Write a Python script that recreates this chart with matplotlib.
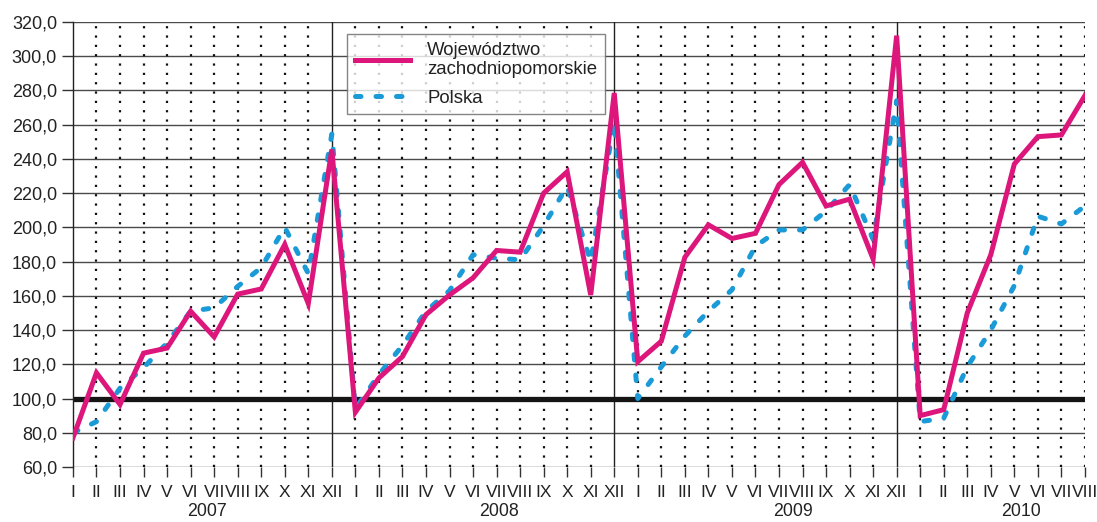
import numpy as np
import matplotlib.pyplot as plt
from matplotlib.transforms import blended_transform_factory

plt.rcParams['font.family'] = ['Liberation Sans', 'DejaVu Sans']

rzymskie = ['I', 'II', 'III', 'IV', 'V', 'VI', 'VII', 'VIII', 'IX', 'X', 'XI', 'XII']
miesiace = rzymskie * 3 + rzymskie[:8]
lata = ['2007', '2008', '2009', '2010']

wojewodztwo = [77, 115, 96.5, 126.5, 129.5, 151, 136, 161, 164, 190, 155.5, 245.5,
               92, 112, 124.5, 149, 160.5, 170.5, 186.5, 185.5, 220, 232.5, 160.5, 278.5,
               121.5, 133.5, 182.5, 201.5, 193.5, 196.5, 225, 238, 212.5, 216.5, 181.5, 312,
               90, 93.5, 150, 184, 237, 253, 254, 277]

polska = [80, 86.5, 106, 118, 132.5, 151, 153, 165.5, 176.5, 200, 173, 254.5,
          94, 114, 131, 151, 163, 184, 182, 181, 201, 224, 180, 262,
          100, 118.5, 136.5, 151, 163.5, 189, 198.5, 198.5, 209.5, 225, 193, 274,
          86.5, 88.5, 118.5, 140, 166, 206.5, 202, 212.5]

# pozycje podpisow lat (w jednostkach indeksu miesiaca)
pozycje_lat = [5.7, 18.1, 30.6, 40.3]

fig = plt.figure(figsize=(10.97, 5.22), dpi=100)
ax = fig.add_axes([0.0665, 0.1054, 0.9225, 0.8525])
x = np.arange(len(miesiace))

# siatka
for v in range(60, 321, 20):
    ax.axhline(v, color='#4a4a4a', lw=1.0, zorder=1)
for i in x[1:]:
    if miesiace[i] == 'XII':
        ax.axvline(i, color='#222222', lw=1.0, zorder=1)
    else:
        ax.axvline(i, color='#111111', lw=1.6, linestyle=(0, (1, 3.2)), zorder=1)

ax.axhline(100, color='#151515', lw=3.8, zorder=2)

ax.plot(x, wojewodztwo, color='#dc167b', lw=3.6, zorder=4,
        solid_joinstyle='miter', label='Województwo\nzachodniopomorskie')
ax.plot(x, polska, color='#1b9ad8', lw=3.6, linestyle=(0, (1.1, 3.0)),
        dash_capstyle='round', zorder=3, label='Polska')

ax.set_xlim(0, len(miesiace) - 1)
ax.set_ylim(60, 320)

ax.set_xticks(x)
ax.set_xticklabels(miesiace, fontsize=12.5, color='#222222')
ax.set_yticks(range(60, 321, 20))
ax.set_yticklabels([f'{v:.1f}'.replace('.', ',') for v in range(60, 321, 20)],
                   fontsize=13, color='#222222')
ax.tick_params(axis='x', length=7, width=1, color='#333333', pad=6)
ax.tick_params(axis='y', length=8, width=1, color='#333333', pad=3.5)

for s in ['top', 'right', 'bottom']:
    ax.spines[s].set_visible(False)
ax.spines['left'].set_color('#222222')
ax.spines['left'].set_linewidth(1.0)

tr = blended_transform_factory(ax.transData, ax.transAxes)
for rok, px in zip(lata, pozycje_lat):
    ax.text(px, -0.1, rok, transform=tr, ha='center', va='center',
            fontsize=12.8, color='#222222')

leg = ax.legend(loc='upper left', bbox_to_anchor=(0.271, 0.972), fontsize=13.4,
                frameon=True, fancybox=False, handlelength=3.0, handletextpad=0.9,
                borderpad=0.4, labelspacing=0.6, borderaxespad=0)
leg.get_frame().set_edgecolor('#666666')
leg.get_frame().set_linewidth(1.0)
for t in leg.get_texts():
    t.set_color('#222222')

fig.savefig('out.png', dpi=100)
